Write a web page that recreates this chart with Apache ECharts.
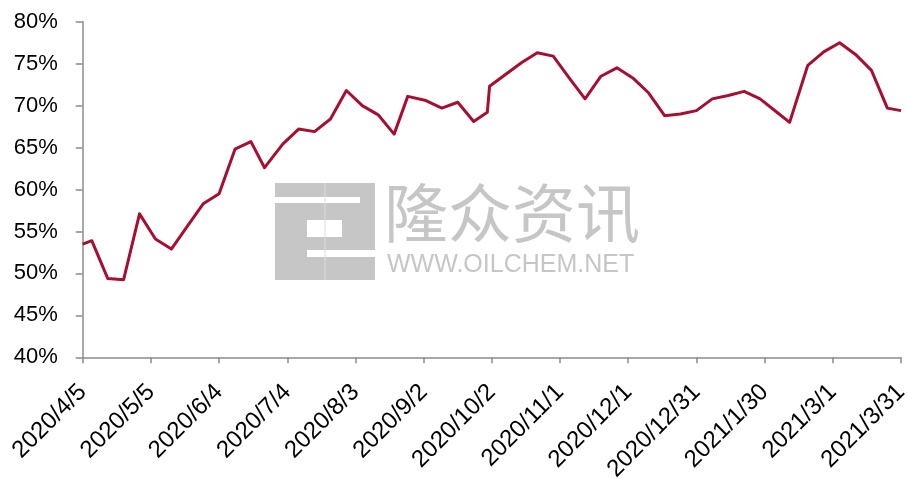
<!DOCTYPE html>
<html>
<head>
<meta charset="utf-8">
<title>开工率</title>
<script src="https://cdn.jsdelivr.net/npm/echarts@6/dist/echarts.min.js"></script>
<style>
  html, body { margin: 0; padding: 0; background: #fff; }
  #chart { width: 907px; height: 479px; }
</style>
</head>
<body>
<div id="chart"></div>
<script>
// 数据日期（周度）
const dates = [
  '2020/4/5', '2020/4/9', '2020/4/16', '2020/4/23', '2020/4/30', '2020/5/7', '2020/5/14',
  '2020/5/21', '2020/5/28', '2020/6/4', '2020/6/11', '2020/6/18', '2020/6/24', '2020/7/2',
  '2020/7/9', '2020/7/16', '2020/7/23', '2020/7/30', '2020/8/6', '2020/8/13', '2020/8/20',
  '2020/8/26', '2020/9/3', '2020/9/10', '2020/9/17', '2020/9/24', '2020/9/30', '2020/10/1',
  '2020/10/8', '2020/10/15', '2020/10/22', '2020/10/29', '2020/11/5', '2020/11/12', '2020/11/19',
  '2020/11/26', '2020/12/3', '2020/12/10', '2020/12/17', '2020/12/24', '2020/12/31', '2021/1/7',
  '2021/1/14', '2021/1/21', '2021/1/28', '2021/2/4', '2021/2/10', '2021/2/18', '2021/2/25',
  '2021/3/4', '2021/3/11', '2021/3/18', '2021/3/25', '2021/3/31'
]

// 开工率 %
const rates = [
  53.5, 53.9, 49.4, 49.25, 57.1, 54.1, 52.9,
  55.6, 58.3, 59.5, 64.8, 65.7, 62.6, 65.4,
  67.2, 66.9, 68.4, 71.8, 70.0, 68.9, 66.6,
  71.1, 70.6, 69.7, 70.4, 68.1, 69.2, 72.3,
  73.7, 75.1, 76.3, 75.9, 73.3, 70.8, 73.5,
  74.5, 73.3, 71.5, 68.8, 69.0, 69.4, 70.8,
  71.2, 71.7, 70.8, 69.3, 68.0, 74.8, 76.4,
  77.5, 76.1, 74.2, 69.7, 69.4
]

// 横轴刻度标签（每30天）
const xTickLabels = [
  '2020/4/5', '2020/5/5', '2020/6/4', '2020/7/4', '2020/8/3', '2020/9/2', '2020/10/2',
  '2020/11/1', '2020/12/1', '2020/12/31', '2021/1/30', '2021/3/1', '2021/3/31'
]

const yTicks = [40, 45, 50, 55, 60, 65, 70, 75, 80]

// 日期 -> 距起始日的天数
function toUtc(s) {
  const [y, m, d] = s.split('/').map(Number)
  return Date.UTC(y, m - 1, d)
}
const startDay = toUtc(xTickLabels[0])
const dayOf = s => Math.round((toUtc(s) - startDay) / 86400000)

const seriesData = dates.map((d, i) => [dayOf(d), rates[i]])

const chart = echarts.init(document.getElementById('chart'))
const axisColor = '#8c8c8c'
const labelFont = '"Liberation Sans", Arial, sans-serif'
const wmColor = '#c6c6c6'

chart.setOption({
  animation: false,
  grid: {
    left: 82.7, right: 6, top: 21.7, bottom: 121.7,
    containLabel: false,
    outerBoundsMode: 'none'
  },
  xAxis: {
    type: 'value',
    min: 0,
    max: 360,
    interval: 30,
    splitLine: { show: false },
    axisLine: { show: true, lineStyle: { color: axisColor, width: 1.5 } },
    axisTick: { show: true, length: 6, lineStyle: { color: axisColor, width: 1.5 } },
    axisLabel: {
      rotate: 45,
      margin: 31,
      color: '#000',
      fontSize: 24,
      fontFamily: labelFont,
      showMinLabel: true,
      showMaxLabel: true,
      hideOverlap: false,
      formatter: v => xTickLabels[Math.round(v / 30)] || ''
    }
  },
  yAxis: {
    type: 'value',
    min: yTicks[0],
    max: yTicks[yTicks.length - 1],
    interval: 5,
    splitLine: { show: false },
    axisLine: { show: true, lineStyle: { color: axisColor, width: 1.5 } },
    axisTick: { show: true, length: 7, lineStyle: { color: axisColor, width: 1.5 } },
    axisLabel: {
      margin: 25,
      color: '#000',
      fontSize: 22,
      fontFamily: labelFont,
      formatter: '{value}%'
    }
  },
  graphic: [
    // 水印 logo
    { type: 'rect', z: 0, shape: { x: 275, y: 183, width: 100, height: 97 }, style: { fill: wmColor } },
    { type: 'rect', z: 0, shape: { x: 275, y: 197, width: 85, height: 6 }, style: { fill: '#fff' } },
    { type: 'rect', z: 0, shape: { x: 307, y: 220, width: 35, height: 17 }, style: { fill: '#fff' } },
    { type: 'rect', z: 0, shape: { x: 307, y: 250, width: 68, height: 7 }, style: { fill: '#fff' } },
    { type: 'line', z: 0, shape: { x1: 325, y1: 183, x2: 325, y2: 280 }, style: { stroke: '#dedede', lineWidth: 1 } },
    {
      type: 'text', z: 0, left: 384, top: 181,
      style: { text: '隆众资讯', fill: wmColor, font: '64px "Noto Sans CJK SC", sans-serif' }
    },
    {
      type: 'text', z: 0, left: 387, top: 253,
      style: { text: 'WWW.OILCHEM.NET', fill: wmColor, font: '25px "Liberation Sans", Arial, sans-serif' }
    }
  ],
  series: [{
    type: 'line',
    z: 5,
    data: seriesData,
    showSymbol: false,
    symbol: 'none',
    lineStyle: { color: '#A50F30', width: 3, join: 'round' },
    itemStyle: { color: '#A50F30' }
  }]
})
</script>
</body>
</html>
